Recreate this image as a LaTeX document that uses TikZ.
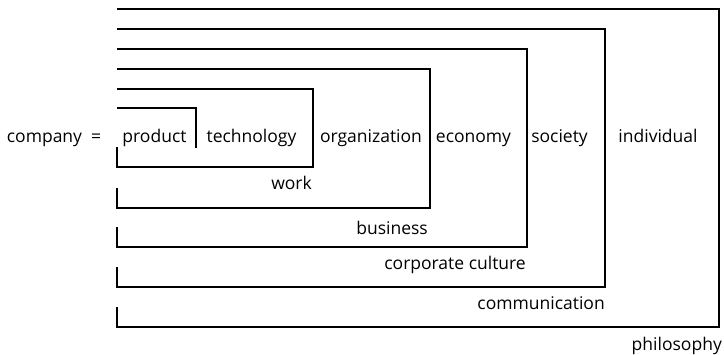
\documentclass[tikz,border=0pt]{standalone}
\usepackage{fontspec}
\setmainfont{Open Sans}
\usetikzlibrary{calc}

\tikzset{
  frame/.style={line width=1.2pt},
  word/.style={anchor=base,inner sep=0pt},
  tag/.style={anchor=base east,inner sep=0pt}
}

\begin{document}
\begin{tikzpicture}[x=1pt,y=-1pt]
\fontsize{17.5}{20}\selectfont
\useasboundingbox (0,0) rectangle (724,355);
% the row of words
\node[word] (company) at (54,143) {company\ \ =};
\node[word] (product) at (154.5,143) {product};
\node[word] (technology) at (251.5,143) {technology};
\node[word] (organization) at (371,143) {organization};
\node[word] (economy) at (473.5,143) {economy};
\node[word] (society) at (559.5,143) {society};
\node[word] (individual) at (658,143) {individual};
% innermost bracket
\draw[frame] (117,108) -- (196,108) -- (196,148);
% nested brackets: right/top/bottom/label x/label y/text/name
\foreach \r/\t/\b/\lx/\ly/\lab/\name in {
  313/89/167/312/190/work/work,
  430/69/208/428/235/business/business,
  527/49/247/526/270/corporate culture/culture,
  605/29/287/605/310/communication/comm,
  719/9/327/722/351/philosophy/phil} {
  \draw[frame] (117,\b-20) -- (117,\b) -- (\r,\b) -- (\r,\t) -- (117,\t);
  \node[tag] (\name) at (\lx,\ly) {\lab};
}
\end{tikzpicture}
\end{document}
